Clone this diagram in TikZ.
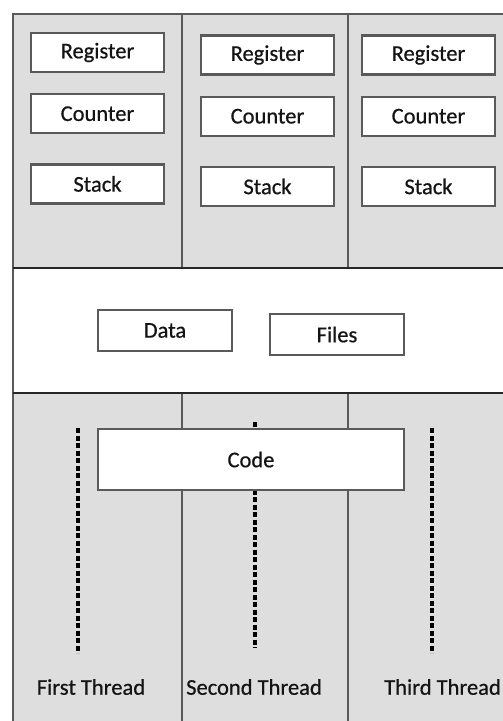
\documentclass[tikz,border=0pt]{standalone}
\usepackage{fontspec}
\setmainfont{Carlito}
\newfontfamily\boxfont{Carlito}[FakeBold=0.6]
\usetikzlibrary{positioning}

\definecolor{paneGrey}{HTML}{DEDEDE}
\definecolor{edgeGrey}{HTML}{5A5A5A}
\definecolor{inkGrey}{HTML}{141414}

\begin{document}
\begin{tikzpicture}[x=1pt, y=1pt, node distance = 20pt,
  box/.style = {rectangle, draw=edgeGrey, line width=2.2pt, fill=white,
    minimum width = 133pt, minimum height = 39pt, inner sep=0pt,
    font = \boxfont\fontsize{22.5}{26}\selectfont, text=inkGrey},
  caption/.style = {font = \boxfont\fontsize{22.5}{26}\selectfont, text=inkGrey, inner sep=0pt},
  thread/.style = {draw=black, line width=3.4pt, dash pattern=on 5pt off 2.5pt}]
  \useasboundingbox (0,0) rectangle (503,-721);

  % panes
  \fill[paneGrey] (13,-14) rectangle (511,-268);
  \fill[white]    (13,-268) rectangle (511,-393);
  \fill[paneGrey] (13,-393) rectangle (511,-725);

  % column dividers
  \draw[edgeGrey, line width=1.8pt] (182,-14) -- (182,-268) (348,-14) -- (348,-268);
  \draw[edgeGrey, line width=1.8pt] (182,-393) -- (182,-725) (348,-393) -- (348,-725);

  % outer frame and section lines
  \draw[edgeGrey, line width=2.2pt] (511,-14) -- (13,-14) -- (13,-725);
  \draw[black!85, line width=2.8pt] (13,-268) -- (511,-268) (13,-393) -- (511,-393);

  % threads
  \coordinate (t1top) at (78,-428);  \coordinate (t1end) at (78,-653);
  \coordinate (t2top) at (255,-422); \coordinate (t2end) at (255,-648);
  \coordinate (t3top) at (432,-428); \coordinate (t3end) at (432,-653);
  \draw[thread] (t1top) -- (t1end);
  \draw[thread] (t2top) -- (t2end);
  \draw[thread] (t3top) -- (t3end);

  % per thread registers
  \foreach \col/\cx/\cy in {1/97.5/52.5, 2/267.5/55, 3/428.5/55} {
    \node[box] (reg\col) at (\cx,-\cy) {Register};
    \node[box] (cnt\col) [below = 20pt of reg\col] {Counter};
    \node[box] (stk\col) [below = 29pt of cnt\col] {Stack};
  }

  % shared parts
  \node[box, minimum width=134pt, minimum height=41pt] (data)  at (165,-330.5) {Data};
  \node[box, minimum width=134pt, minimum height=41pt] (files) at (337,-334.5) {Files};
  \node[box, minimum width=306pt, minimum height=61pt] (code)  at (251,-459.5) {Code};

  \node[caption] (first)  at (91,-687)  {First Thread};
  \node[caption] (second) at (254,-687) {Second Thread};
  \node[caption, anchor=east] (third) at (501,-687) {Third Thread};
\end{tikzpicture}
\end{document}
